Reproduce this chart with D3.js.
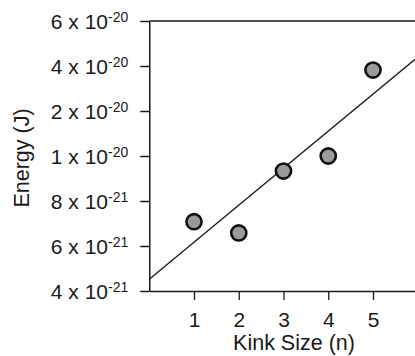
<!DOCTYPE html>
<html>
<head>
<meta charset="utf-8">
<script src="https://cdn.jsdelivr.net/npm/d3@7/dist/d3.min.js"></script>
<style>
  html, body { margin: 0; padding: 0; background: #fff; }
  svg { display: block; font-family: "Liberation Sans", Arial, Helvetica, sans-serif; }
</style>
</head>
<body>
<svg id="chart" width="415" height="356"></svg>
<script>
// ---- data ----
const kinkSize = [1, 2, 3, 4, 5];
const energy = [7.08e-21, 6.58e-21, 9.33e-21, 1.0e-20, 3.82e-20];
const xTickValues = [1, 2, 3, 4, 5];
const yTickValues = [4e-21, 6e-21, 8e-21, 1e-20, 2e-20, 4e-20, 6e-20];
const yTickMantissa = ["4", "6", "8", "1", "2", "4", "6"];
const yTickExponent = ["-21", "-21", "-21", "-20", "-20", "-20", "-20"];
const fitKink = [0, 5.94];
const fitEnergy = [4.52e-21, 4.3e-20];

// ---- layout ----
const svg = d3.select("#chart");
const plotLeft = 149.25, plotTop = 21, plotBottom = 291, unit = 44.75;
const ink = "#1a1a1a";

const x = d3.scaleLinear().domain([0, 6]).range([plotLeft, plotLeft + 6 * unit]);
const step = (plotBottom - plotTop) / (yTickValues.length - 1);
const y = d3.scaleLinear()
  .domain(yTickValues)
  .range(yTickValues.map((d, i) => plotBottom - i * step));

// y axis
const yAxis = d3.axisLeft(y).tickValues(yTickValues).tickSize(9).tickSizeOuter(0).tickPadding(12).tickFormat(() => "");
const gy = svg.append("g").attr("transform", `translate(${plotLeft},0)`).call(yAxis);
gy.select(".domain").attr("stroke", ink).attr("stroke-width", 1.5);
gy.selectAll(".tick line").attr("stroke", ink).attr("stroke-width", 1.5);
gy.selectAll(".tick text").each(function(d, i) {
  const t = d3.select(this);
  t.text(null)
    .attr("font-size", 21).attr("fill", ink).attr("dy", "0.34em")
    .attr("font-family", "'Liberation Sans', Arial, sans-serif");
  t.append("tspan").text(yTickMantissa[i] + " x 10");
  t.append("tspan").text(yTickExponent[i]).attr("font-size", 14).attr("dy", "-0.5em");
});

// x axis
const xAxis = d3.axisBottom(x).tickValues(xTickValues).tickSize(9).tickSizeOuter(0).tickFormat(d3.format("d"));
const gx = svg.append("g").attr("transform", `translate(0,${plotBottom})`).call(xAxis);
gx.select(".domain").attr("stroke", ink).attr("stroke-width", 1.5);
gx.selectAll(".tick line").attr("stroke", ink).attr("stroke-width", 1.3);
gx.selectAll(".tick text").attr("font-size", 21).attr("fill", ink).attr("y", 36).attr("dy", 0)
  .attr("font-family", "'Liberation Sans', Arial, sans-serif");

// top frame line
svg.append("line")
  .attr("x1", x(0)).attr("x2", x(6))
  .attr("y1", y(yTickValues[yTickValues.length - 1])).attr("y2", y(yTickValues[yTickValues.length - 1]))
  .attr("stroke", ink).attr("stroke-width", 1.5);

// fit line
svg.append("path")
  .datum(fitKink.map((k, i) => [k, fitEnergy[i]]))
  .attr("fill", "none").attr("stroke", ink).attr("stroke-width", 1.3)
  .attr("d", d3.line().x(d => x(d[0])).y(d => y(d[1])));

// points
svg.append("g").selectAll("circle")
  .data(kinkSize.map((k, i) => ({ k, e: energy[i] })))
  .join("circle")
  .attr("cx", d => x(d.k)).attr("cy", d => y(d.e))
  .attr("r", 7.6)
  .attr("fill", "#9a9a9a").attr("stroke", "#111").attr("stroke-width", 2.6);

// axis titles
svg.append("text")
  .attr("x", 294).attr("y", 350)
  .attr("text-anchor", "middle").attr("font-size", 21.5).attr("fill", ink)
  .text("Kink Size (n)");
svg.append("text")
  .attr("transform", "translate(29,158) rotate(-90)")
  .attr("text-anchor", "middle").attr("font-size", 21.5).attr("fill", ink)
  .text("Energy (J)");
</script>
</body>
</html>
